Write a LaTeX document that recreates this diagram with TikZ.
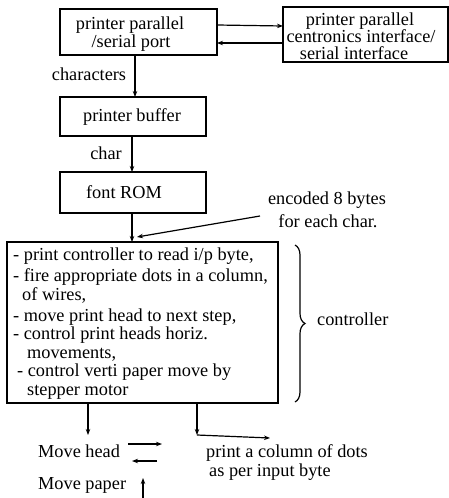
\documentclass[tikz,border=0pt]{standalone}
\usepackage{fontspec}
\setmainfont{Liberation Serif}
\usetikzlibrary{arrows.meta,decorations.pathreplacing}
\begin{document}
\begin{tikzpicture}[x=1pt,y=-1pt,
  box/.style={draw,line width=1.6pt},
  txt/.style={inner sep=0pt,anchor=base,font=\fontsize{18.3}{20}\selectfont},
  ltxt/.style={txt,anchor=base west},
  arr/.style={line width=1.2pt,-{Stealth[length=6pt,width=4.5pt]}}]
\useasboundingbox (0,0) rectangle (449,498);
% boxes
\draw[box] (60,9) rectangle (217,55);
\draw[box] (283,7) rectangle (448,62);
\draw[box] (60,97) rectangle (206,136);
\draw[box] (60,172) rectangle (206,213);
\draw[box] (7,242) rectangle (278,403);
\coordinate (b1r1) at (217,25); \coordinate (b2l1) at (283,26);
\coordinate (b2l2) at (283,43); \coordinate (b1r2) at (217,43);
\coordinate (b1b) at (135,55); \coordinate (b3t) at (135,97);
\coordinate (b3b) at (132,136); \coordinate (b4t) at (132,172);
\coordinate (b4b) at (132,213); \coordinate (b5t) at (132,242);
\coordinate (encs) at (260,216); \coordinate (ence) at (137,237);
\coordinate (c1s) at (88,403); \coordinate (c1e) at (88,435);
\coordinate (c2s) at (197,403); \coordinate (c2e) at (197,435);
\coordinate (h1s) at (197,435); \coordinate (h1e) at (270,438);
\coordinate (mh1s) at (128,444); \coordinate (mh1e) at (162,444);
\coordinate (mh2s) at (157,461); \coordinate (mh2e) at (132,461);
\coordinate (mps) at (143,498); \coordinate (mpe) at (143,478);
% box texts
\node[txt,text depth=0pt] (t1a) at (130,29) {printer parallel};
\node[txt] (t1b) at (131,47) {/serial port};
\node[txt,text depth=0pt] (t2a) at (360,25) {printer parallel};
\node[txt] (t2b) at (361,42) {centronics interface/};
\node[txt] (t2c) at (354,59) {serial interface};
\node[txt] (t3) at (132,121) {printer buffer};
\node[txt] (t4) at (124,198) {font ROM};
\node[txt] (lch) at (89,80) {characters};
\node[txt] (lc) at (106,159) {char};
\node[txt] (enc1) at (327,204) {encoded 8 bytes};
\node[txt] (enc2) at (328,227) {for each char.};
% controller lines
\node[ltxt] (l1) at (13,260) {- print controller to read i/p byte,};
\node[ltxt] (l2) at (13,281) {- fire appropriate dots in a column,};
\node[ltxt] (l3) at (22,300) {of wires,};
\node[ltxt] (l4) at (13,321) {- move print head to next step,};
\node[ltxt] (l5) at (13,339) {- control print heads horiz.};
\node[ltxt] (l6) at (27,358) {movements,};
\node[ltxt,text depth=0pt] (l7) at (17,376) {- control verti paper move by};
\node[ltxt,text height=9pt] (l8) at (27,395) {stepper motor};
\node[ltxt] (ctl) at (317,325) {controller};
\draw[line width=1.2pt,decorate,decoration={brace,amplitude=10pt}] (295,245) -- (295,402);
% bottom texts
\node[ltxt] (mh) at (38,457) {Move head};
\node[ltxt] (mp) at (38,489) {Move paper};
\node[ltxt] (pc1) at (206,457) {print a column of dots};
\node[ltxt] (pc2) at (209,476) {as per input byte};
% arrows
\draw[arr] (b1r1) -- (b2l1);
\draw[arr,line width=1.6pt] (b2l2) -- (b1r2);
\draw[arr] (b1b) -- (b3t);
\draw[arr] (b3b) -- (b4t);
\draw[arr] (b4b) -- (b5t);
\draw[arr] (encs) -- (ence);
\draw[arr] (c1s) -- (c1e);
\draw[arr] (c2s) -- (c2e);
\draw[arr] (h1s) -- (h1e);
\draw[arr] (mh1s) -- (mh1e);
\draw[arr] (mh2s) -- (mh2e);
\draw[arr] (mps) -- (mpe);
\end{tikzpicture}
\end{document}
